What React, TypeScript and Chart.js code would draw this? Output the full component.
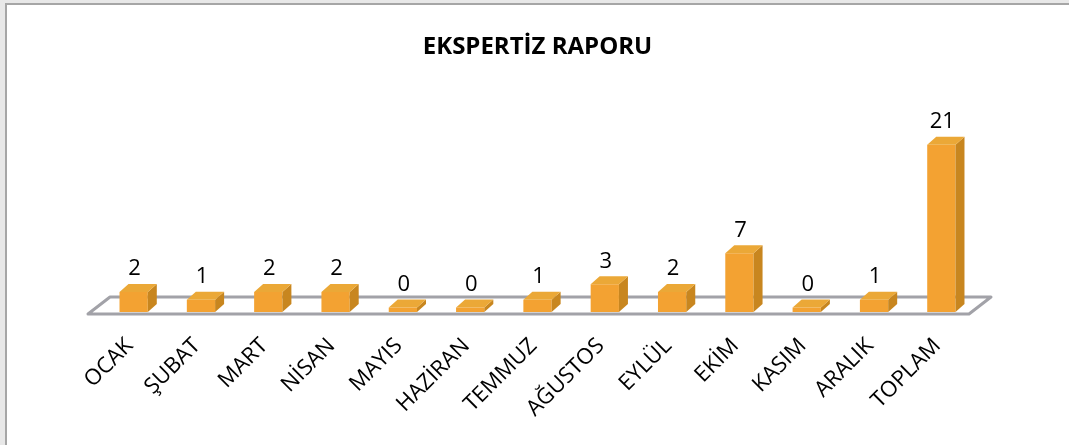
import React, { useEffect, useRef } from "react";
import { Chart, registerables } from "chart.js";

Chart.register(...registerables);

const categories = ["OCAK", "ŞUBAT", "MART", "NİSAN", "MAYIS", "HAZİRAN", "TEMMUZ", "AĞUSTOS", "EYLÜL", "EKİM", "KASIM", "ARALIK", "TOPLAM"];
const values = [2, 1, 2, 2, 0, 0, 1, 3, 2, 7, 0, 1, 21];
const title = "EKSPERTİZ RAPORU";

const FONT = "'Open Sans', 'Liberation Sans', sans-serif";
const DX = 9;
const DY = -8;

const bar3d = {
  id: "bar3d",
  beforeDatasetsDraw(chart: any) {
    const { ctx, chartArea } = chart;
    const fl = chartArea.left - 12;
    const fr = chartArea.right - 6;
    const fy = chartArea.bottom + 2;
    const bdx = 22;
    const bdy = -17;
    ctx.save();
    ctx.strokeStyle = "#a2a2a8";
    ctx.lineWidth = 3;
    ctx.lineJoin = "round";
    ctx.beginPath();
    ctx.moveTo(fl, fy);
    ctx.lineTo(fl + bdx, fy + bdy);
    ctx.lineTo(fr + bdx, fy + bdy);
    ctx.lineTo(fr, fy);
    ctx.closePath();
    ctx.stroke();
    ctx.restore();
  },
  afterDatasetsDraw(chart: any) {
    const { ctx } = chart;
    const meta = chart.getDatasetMeta(0);
    ctx.save();
    meta.data.forEach((el: any, i: number) => {
      const w = el.width;
      const l = el.x - w / 2;
      const r = el.x + w / 2;
      const t = el.y;
      const b = el.base;
      ctx.fillStyle = "#c8861f";
      ctx.beginPath();
      ctx.moveTo(r, t);
      ctx.lineTo(r + DX, t + DY);
      ctx.lineTo(r + DX, b + DY);
      ctx.lineTo(r, b);
      ctx.closePath();
      ctx.fill();
      ctx.fillStyle = "#eba837";
      ctx.beginPath();
      ctx.moveTo(l, t);
      ctx.lineTo(l + DX, t + DY);
      ctx.lineTo(r + DX, t + DY);
      ctx.lineTo(r, t);
      ctx.closePath();
      ctx.fill();
      ctx.fillStyle = "#000000";
      ctx.font = `22px ${FONT}`;
      ctx.textAlign = "center";
      ctx.textBaseline = "bottom";
      ctx.fillText(String(values[i]), el.x + 1, t + DY - 4);
    });
    ctx.restore();
  },
};

export default function App() {
  const ref = useRef<HTMLCanvasElement | null>(null);
  useEffect(() => {
    if (!ref.current) return;
    const chart = new Chart(ref.current, {
      type: "bar",
      data: {
        labels: categories,
        datasets: [
          {
            data: values,
            base: -0.58,
            backgroundColor: "#f3a232",
            borderWidth: 0,
            barPercentage: 0.42,
            categoryPercentage: 1,
          },
        ],
      },
      options: {
        responsive: false,
        animation: false,
        maintainAspectRatio: false,
        layout: { padding: { left: 93, right: 94, top: 0, bottom: 0 } },
        plugins: {
          legend: { display: false },
          tooltip: { enabled: false },
          title: {
            display: true,
            text: title,
            color: "#000",
            font: { family: FONT, size: 24, weight: "bold", lineHeight: 1.2 },
            padding: { top: 28, bottom: 52 },
          },
        },
        scales: {
          x: {
            grid: { display: false, drawTicks: false },
            border: { display: false },
            ticks: {
              minRotation: 45,
              maxRotation: 45,
              autoSkip: false,
              padding: 21,
              labelOffset: -4,
              color: "#000",
              font: { family: FONT, size: 22 },
            },
            afterFit: (s: any) => {
              s.height = 133;
            },
          },
          y: {
            display: false,
            min: -0.58,
            max: 25,
          },
        },
      },
      plugins: [bar3d],
    });
    return () => chart.destroy();
  }, []);

  return (
    <div style={{ position: "fixed", left: 0, top: 0, width: 1069, height: 445, background: "#e8e8e8", overflow: "hidden" }}>
      <div
        style={{
          position: "absolute",
          left: 5,
          top: 3,
          width: 1070,
          height: 450,
          background: "#ffffff",
          borderLeft: "2px solid #a6a6a6",
          borderTop: "2px solid #a6a6a6",
        }}
      >
        <canvas ref={ref} width={1062} height={440} style={{ display: "block", width: 1062, height: 440 }} />
      </div>
    </div>
  );
}
